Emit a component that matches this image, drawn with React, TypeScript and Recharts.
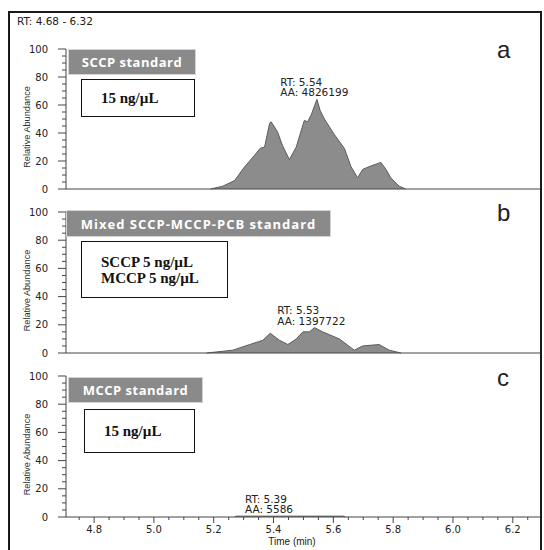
import { AreaChart, Area, XAxis, YAxis, ReferenceDot } from 'recharts'

// panel a: SCCP standard
const sccpTime = [5.19, 5.23, 5.27, 5.3, 5.34, 5.355, 5.37, 5.387, 5.392, 5.413, 5.43, 5.453, 5.476, 5.503, 5.514, 5.526, 5.545, 5.556, 5.57, 5.603, 5.637, 5.659, 5.681, 5.698, 5.72, 5.759, 5.776, 5.792, 5.82, 5.842]
const sccpAbund = [0, 2, 6, 15, 25, 29, 30, 47, 48, 41, 31, 21, 30, 49, 48, 53, 64, 56, 50, 39, 29, 16, 8, 14, 16, 19, 14, 8, 2, 0]

// panel b: mixed SCCP-MCCP-PCB standard
const mixTime = [5.176, 5.264, 5.32, 5.364, 5.389, 5.42, 5.448, 5.476, 5.498, 5.52, 5.537, 5.564, 5.62, 5.67, 5.698, 5.753, 5.787, 5.826]
const mixAbund = [0, 2, 6, 9, 14, 9, 6, 10, 15, 15, 18, 15, 10, 2, 5, 6, 2, 0]

// panel c: MCCP standard
const mccpTime = [5.27, 5.275, 5.39, 5.635, 5.64]
const mccpAbund = [0, 0.6, 0.6, 0.6, 0]

const panelNames = ['SCCP standard', 'Mixed SCCP-MCCP-PCB standard', 'MCCP standard']
const panelLetters = ['a', 'b', 'c']
const concLines = [['15 ng/µL'], ['SCCP 5 ng/µL', 'MCCP 5 ng/µL'], ['15 ng/µL']]
const peakRT = [5.54, 5.53, 5.39]
const peakAA = [4826199, 1397722, 5586]

const yTicks = [0, 5, 10, 15, 20, 25, 30, 35, 40, 45, 50, 55, 60, 65, 70, 75, 80, 85, 90, 95, 100]
const xTicks = Array.from({ length: 31 }, (_, i) => +(4.75 + i * 0.05).toFixed(2))
const xDomain = [4.706, 6.291]

const toRows = (t: number[], v: number[]) => t.map((x, i) => ({ t: x, v: v[i] }))

const axisColor = '#444'
const tickFont = '"DejaVu Sans", sans-serif'

const YTick = ({ x, y, payload }: any) => {
  const major = payload.value % 20 === 0
  return (
    <g>
      <line x1={x - (major ? 8 : 4)} x2={x} y1={y} y2={y} stroke={axisColor} />
      {major && (
        <text x={x - 18} y={y} dy="0.35em" textAnchor="end" fontSize={10} fontFamily={tickFont} fill="#222">
          {payload.value}
        </text>
      )}
    </g>
  )
}

const XTick = ({ x, y, payload }: any) => {
  const major = Math.abs(payload.value * 5 - Math.round(payload.value * 5)) < 1e-6
  return (
    <g>
      <line x1={x} x2={x} y1={y} y2={y + (major ? 6 : 3)} stroke={axisColor} />
      {major && (
        <text x={x} y={y + 16} textAnchor="middle" fontSize={10} fontFamily={tickFont} fill="#222">
          {payload.value.toFixed(1)}
        </text>
      )}
    </g>
  )
}

const YLabel = ({ viewBox }: any) => {
  const cx = 27
  const cy = viewBox.y + viewBox.height / 2 + 8
  return (
    <text x={cx} y={cy} transform={`rotate(-90 ${cx} ${cy})`} textAnchor="middle" dy="0.35em"
      fontSize={9.2} fontFamily='"Liberation Sans", Arial, sans-serif' fill="#333">
      Relative Abundance
    </text>
  )
}

const PeakLabel = ({ viewBox, rt, aa }: any) => {
  const l2 = `AA: ${aa}`
  const w = l2.length * 6.4
  const x = viewBox.x - w / 2
  const y = viewBox.y - 3
  return (
    <g fontSize={10.5} fontFamily={tickFont} fill="#222">
      <text x={x} y={y - 10.5}>{`RT: ${rt.toFixed(2)}`}</text>
      <text x={x} y={y}>{l2}</text>
    </g>
  )
}

const TimeLabel = ({ viewBox }: any) => (
  <text x={292} y={viewBox.y + 28} textAnchor="middle" fontSize={10} fontFamily='"Liberation Sans", Arial, sans-serif' fill="#222">
    Time (min)
  </text>
)

function Panel({ idx, top, height, plotTop, plotBottom, time, abund, last }: any) {
  const rows = toRows(time, abund)
  const peakV = Math.max(...abund)
  return (
    <div style={{ position: 'absolute', left: 0, top, width: 544, height }}>
      <AreaChart width={544} height={height} data={rows} margin={{ top: plotTop, right: 4, bottom: 0, left: 0 }}>
        <XAxis
          dataKey="t"
          type="number"
          domain={xDomain}
          ticks={last ? xTicks : undefined}
          interval={0}
          tick={last ? <XTick /> : false}
          tickLine={false}
          tickSize={0}
          tickMargin={0}
          height={height - plotBottom}
          axisLine={{ stroke: axisColor }}
          label={last ? <TimeLabel /> : undefined}
        />
        <YAxis
          type="number"
          domain={[0, 100]}
          ticks={yTicks}
          interval={0}
          width={66}
          tick={<YTick />}
          tickLine={false}
          tickSize={0}
          tickMargin={0}
          axisLine={{ stroke: axisColor }}
          label={<YLabel />}
        />
        <Area
          type="linear"
          dataKey="v"
          stroke="#5c5c5c"
          strokeWidth={1}
          fill="#8c8c8c"
          fillOpacity={1}
          isAnimationActive={false}
        />
        <ReferenceDot
          x={peakRT[idx]}
          y={peakV}
          r={0}
          fill="none"
          stroke="none"
          label={<PeakLabel rt={peakRT[idx]} aa={peakAA[idx]} />}
        />
      </AreaChart>
    </div>
  )
}

const titleBoxes = [
  { left: 69, top: 50, width: 126, height: 24, size: 13, ls: 0.5 },
  { left: 67, top: 211, width: 263, height: 25, size: 13, ls: 1 },
  { left: 69, top: 378, width: 133, height: 24, size: 13, ls: 0.5 },
]
const concBoxes = [
  { left: 81, top: 79, width: 114, height: 38 },
  { left: 81, top: 241, width: 147, height: 57 },
  { left: 84, top: 409, width: 111, height: 44 },
]
const letterTops = [36, 199, 364]

export default function App() {
  return (
    <div style={{ position: 'absolute', left: 0, top: 0, width: 544, height: 550, overflow: 'hidden', background: '#fff' }}>
      <div style={{ position: 'absolute', left: 8, top: 11, width: 530, height: 545, border: '2px solid #1a1a1a' }} />
      <div style={{ position: 'absolute', left: 17, top: 15, fontSize: 10.5, fontFamily: tickFont, color: '#222' }}>
        RT: 4.68 - 6.32
      </div>

      <Panel idx={0} top={0} height={200} plotTop={49} plotBottom={189} time={sccpTime} abund={sccpAbund} />
      <Panel idx={1} top={200} height={165} plotTop={12} plotBottom={153} time={mixTime} abund={mixAbund} />
      <Panel idx={2} top={365} height={185} plotTop={11} plotBottom={152} time={mccpTime} abund={mccpAbund} last />

      {titleBoxes.map((b, i) => (
        <div key={`t${i}`} style={{
          position: 'absolute', left: b.left, top: b.top, width: b.width, height: b.height,
          background: '#8a8a8a', outline: '1px solid #d4d4d4', color: '#fff',
          fontFamily: '"Open Sans", sans-serif', fontWeight: 700, fontSize: b.size, letterSpacing: b.ls,
          display: 'flex', alignItems: 'center', justifyContent: 'center', whiteSpace: 'nowrap',
        }}>
          {panelNames[i]}
        </div>
      ))}
      {concBoxes.map((b, i) => (
        <div key={`c${i}`} style={{
          position: 'absolute', left: b.left, top: b.top, width: b.width, height: b.height,
          boxSizing: 'border-box', border: '1.5px solid #111', background: '#fff',
          fontFamily: '"Liberation Serif", "Times New Roman", serif', fontWeight: 700, fontSize: 15,
          lineHeight: '16px', display: 'flex', flexDirection: 'column', justifyContent: 'center',
          paddingLeft: 19, color: '#111',
        }}>
          {concLines[i].map((s) => <div key={s}>{s}</div>)}
        </div>
      ))}
      {panelLetters.map((l, i) => (
        <div key={l} style={{
          position: 'absolute', left: 497, top: letterTops[i], fontSize: 24,
          fontFamily: '"Liberation Sans", Arial, sans-serif', fontWeight: 300, color: '#222',
        }}>
          {l}
        </div>
      ))}
    </div>
  )
}
